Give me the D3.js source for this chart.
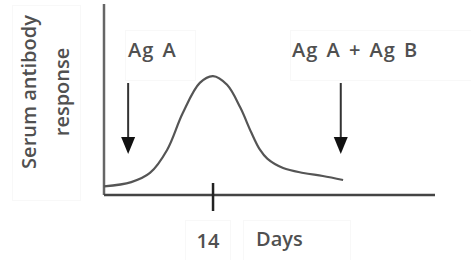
<!DOCTYPE html>
<html>
<head>
<meta charset="utf-8">
<script src="https://cdn.jsdelivr.net/npm/d3@7"></script>
<style>
  body { margin: 0; background: #fff; }
  text { font-family: "Open Sans", "Noto Sans", sans-serif; fill: #505050; font-size: 20px; font-weight: 600; }
</style>
</head>
<body>
<div id="graphic"></div>
<script>
// antibody response over time (days, arbitrary units)
const days = [0, 3.5, 5.9, 8.1, 10.1, 12.3, 14, 15.8, 17.5, 18.9, 20, 21, 23, 25.6, 28.1, 30.7];
const response = [4.5, 6.8, 11.6, 23.7, 43, 59, 62.6, 58, 46, 33, 24, 19, 14.2, 11.6, 10, 7.9];
const tickDays = [14];
const doses = ["Ag A", "Ag A + Ag B"];
const doseDays = [3.1, 30.4];

const width = 471, height = 260;
const margin = { top: 5, right: 36, bottom: 65, left: 104 };

const svg = d3.select("#graphic")
    .append("svg")
    .attr("width", width)
    .attr("height", height);

const x = d3.scaleLinear()
    .domain([0, 42.5])
    .range([margin.left, width - margin.right]);
const y = d3.scaleLinear()
    .domain([0, 100])
    .range([height - margin.bottom, margin.top]);

// faint text boxes like the original pasted image
const boxes = [[12, 5, 68, 195], [125, 30, 70, 50], [290, 30, 181, 50], [185, 220, 45, 40], [243, 220, 107, 40]];
svg.selectAll("rect.box")
    .data(boxes)
    .join("rect")
    .attr("class", "box")
    .attr("x", d => d[0] + 0.5).attr("y", d => d[1] + 0.5)
    .attr("width", d => d[2]).attr("height", d => d[3])
    .attr("fill", "none")
    .attr("stroke", "#f8f8f8")
    .attr("stroke-width", 1)
    .attr("shape-rendering", "crispEdges");

// axes
svg.append("line")
    .attr("x1", x(0)).attr("x2", x(0))
    .attr("y1", 4).attr("y2", y(0))
    .attr("stroke", "#666").attr("stroke-width", 2.5);
svg.append("line")
    .attr("x1", x(0)).attr("x2", x(42.5))
    .attr("y1", y(0)).attr("y2", y(0))
    .attr("stroke", "#444").attr("stroke-width", 2.5);

svg.selectAll("line.tick")
    .data(tickDays)
    .join("line")
    .attr("class", "tick")
    .attr("x1", d => x(d)).attr("x2", d => x(d))
    .attr("y1", y(0) - 12).attr("y2", y(0) + 16)
    .attr("stroke", "#222").attr("stroke-width", 2.5);
svg.selectAll("text.ticklab")
    .data(tickDays)
    .join("text")
    .attr("class", "ticklab")
    .attr("x", d => x(d) - 5)
    .attr("y", 248)
    .attr("text-anchor", "middle")
    .text(d => d);

svg.append("text")
    .attr("x", 256)
    .attr("y", 246)
    .text("Days");

// y label
const ylab = svg.append("g").attr("transform", "translate(0,92)rotate(-90)");
ylab.append("text").attr("y", 36).attr("text-anchor", "middle").text("Serum antibody");
ylab.append("text").attr("y", 69).attr("text-anchor", "middle").text("response");

// curve
const line = d3.line()
    .x((d, i) => x(days[i]))
    .y(d => y(d))
    .curve(d3.curveCatmullRom.alpha(0.5));
svg.append("path")
    .datum(response)
    .attr("d", line)
    .attr("fill", "none")
    .attr("stroke", "#555")
    .attr("stroke-width", 2.2);

// arrows
svg.selectAll("line.arrow")
    .data(doseDays)
    .join("line")
    .attr("class", "arrow")
    .attr("x1", d => x(d)).attr("x2", d => x(d))
    .attr("y1", 83).attr("y2", 140)
    .attr("stroke", "#333").attr("stroke-width", 2);
svg.selectAll("path.arrowhead")
    .data(doseDays)
    .join("path")
    .attr("class", "arrowhead")
    .attr("d", d => `M${x(d) - 7},137L${x(d) + 7},137L${x(d)},154Z`)
    .attr("fill", "#111");

svg.selectAll("text.dose")
    .data(doses)
    .join("text")
    .attr("class", "dose")
    .attr("x", (d, i) => i === 0 ? 128 : 292)
    .attr("y", 57)
    .style("letter-spacing", "1px")
    .style("word-spacing", "2px")
    .text(d => d);
</script>
</body>
</html>
